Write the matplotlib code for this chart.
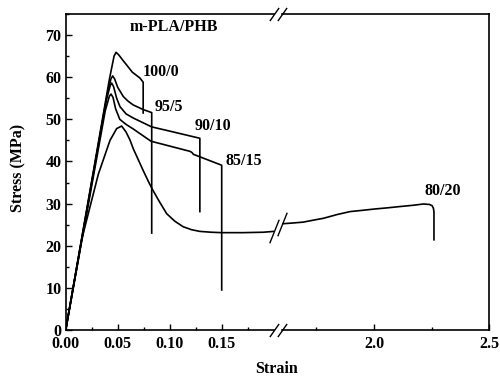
import matplotlib.pyplot as plt
from matplotlib.ticker import FixedLocator, FormatStrFormatter

plt.rcParams['font.family'] = 'Liberation Serif'
plt.rcParams['font.weight'] = 'bold'

# --- Data ---
strain_100 = [0, 0.042, 0.0465, 0.0484, 0.051, 0.055, 0.0586, 0.064, 0.0714, 0.0745, 0.0745]
stress_100 = [0, 59.5, 65.0, 65.9, 65.3, 64.0, 62.9, 61.2, 59.8, 58.8, 51.5]

strain_95 = [0, 0.040, 0.0435, 0.0452, 0.047, 0.050, 0.0554, 0.060, 0.065, 0.0746, 0.0827, 0.0827]
stress_95 = [0, 56.0, 59.6, 60.3, 59.6, 57.6, 55.4, 54.3, 53.4, 52.3, 51.6, 23.0]

strain_90 = [0, 0.039, 0.0428, 0.0442, 0.046, 0.049, 0.0522, 0.058, 0.065, 0.0827, 0.100, 0.129, 0.129]
stress_90 = [0, 54.5, 58.0, 58.6, 57.8, 55.0, 53.0, 51.3, 50.3, 48.2, 47.2, 45.5, 28.1]

strain_85 = [0, 0.038, 0.042, 0.0436, 0.0455, 0.048, 0.052, 0.058, 0.065, 0.082, 0.1195, 0.1215, 0.1227, 0.150, 0.150]
stress_85 = [0, 52.0, 55.5, 56.0, 55.2, 52.5, 50.0, 48.8, 47.7, 44.8, 42.4, 42.1, 41.7, 39.1, 9.5]

# 80/20, left part of the broken axis
strain_80a = [0, 0.0154, 0.0314, 0.0426, 0.049, 0.0538, 0.058, 0.0618, 0.065, 0.070, 0.0746,
              0.080, 0.0842, 0.090, 0.0971, 0.105, 0.113, 0.121, 0.129, 0.14, 0.15, 0.17, 0.19, 0.2]
stress_80a = [0, 21.5, 37.0, 45.0, 47.8, 48.4, 47.0, 45.1, 43.0, 40.3, 37.8,
              35.0, 33.0, 30.5, 27.6, 25.8, 24.5, 23.8, 23.4, 23.2, 23.1, 23.1, 23.2, 23.4]
# 80/20, right part of the broken axis
strain_80b = [1.6, 1.65, 1.693, 1.74, 1.78, 1.84, 1.896, 1.95, 2.0, 2.06, 2.113, 2.17,
              2.214, 2.24, 2.252, 2.258, 2.26, 2.26]
stress_80b = [25.2, 25.4, 25.6, 26.1, 26.5, 27.4, 28.1, 28.4, 28.7, 29.0, 29.3, 29.6,
              29.9, 29.8, 29.5, 28.8, 28.0, 21.4]

labels = ['100/0', '95/5', '90/10', '85/15']
label_x = [0.074, 0.0859, 0.1243, 0.154]
label_y = [61.2, 52.9, 48.3, 40.1]

# --- Figure with broken x axis ---
fig = plt.figure(figsize=(5, 3.81), dpi=100)
ax1 = fig.add_axes([0.1314, 0.1339, 0.416, 0.8294])
ax2 = fig.add_axes([0.5636, 0.1339, 0.415, 0.8294])

lw = 1.2
for x, y in [(strain_100, stress_100), (strain_95, stress_95), (strain_90, stress_90),
             (strain_85, stress_85), (strain_80a, stress_80a)]:
    ax1.plot(x, y, color='black', linewidth=lw)
ax2.plot(strain_80b, stress_80b, color='black', linewidth=lw)

for ax in (ax1, ax2):
    ax.set_ylim(0, 75)
    for s in ax.spines.values():
        s.set_linewidth(1.2)
    ax.tick_params(which='both', direction='in', labelsize=11.5, width=1.0)
    ax.tick_params(which='major', length=4.5)
    ax.tick_params(which='minor', length=2.5)
    ax.tick_params(axis='x', pad=4)

ax1.set_xlim(0, 0.2)
ax1.xaxis.set_major_locator(FixedLocator([0, 0.05, 0.10, 0.15]))
ax1.xaxis.set_minor_locator(FixedLocator([0.025, 0.075, 0.125, 0.175]))
ax1.xaxis.set_major_formatter(FormatStrFormatter('%.2f'))
ax1.yaxis.set_major_locator(FixedLocator(range(0, 71, 10)))
ax1.yaxis.set_minor_locator(FixedLocator(range(5, 76, 10)))
ax1.tick_params(axis='y', pad=3)
ax1.spines['right'].set_visible(False)

ax2.set_xlim(1.6, 2.5)
ax2.xaxis.set_major_locator(FixedLocator([2.0, 2.5]))
ax2.xaxis.set_minor_locator(FixedLocator([1.75, 2.25]))
ax2.xaxis.set_major_formatter(FormatStrFormatter('%.1f'))
ax2.spines['left'].set_visible(False)
ax2.tick_params(axis='y', which='both', left=False, labelleft=False)

# break marks
slash = [(-0.35, -0.5), (0.35, 0.5)]
slash_tall = [(-0.2, -0.5), (0.2, 0.5)]
ax1.plot([0.2, 0.2], [0, 75], linestyle='none', marker=slash, markersize=9.5,
         mec='black', mew=1.0, clip_on=False)
ax2.plot([1.6, 1.6], [0, 75], linestyle='none', marker=slash, markersize=9.5,
         mec='black', mew=1.0, clip_on=False)
ax1.plot([strain_80a[-1]], [stress_80a[-1]], linestyle='none', marker=slash_tall,
         markersize=17, mec='black', mew=1.0, clip_on=False)
ax2.plot([strain_80b[0]], [stress_80b[0]], linestyle='none', marker=slash_tall,
         markersize=17, mec='black', mew=1.0, clip_on=False)

# annotations
ax1.text(0.104, 71.9, 'm-PLA/PHB', ha='center', va='center', fontsize=11.5)
for t, x, y in zip(labels, label_x, label_y):
    ax1.text(x, y, t, ha='left', va='center', fontsize=11.5)
ax2.text(2.221, 32.9, '80/20', ha='left', va='center', fontsize=11.5)

fig.text(18 / 500, 1 - 167.5 / 381, 'Stress (MPa)', rotation=90, ha='center', va='center', fontsize=11.5)
fig.text(277 / 500, 1 - 369 / 381, 'Strain', ha='center', va='center', fontsize=11.5)

fig.savefig('out.png', dpi=100)
